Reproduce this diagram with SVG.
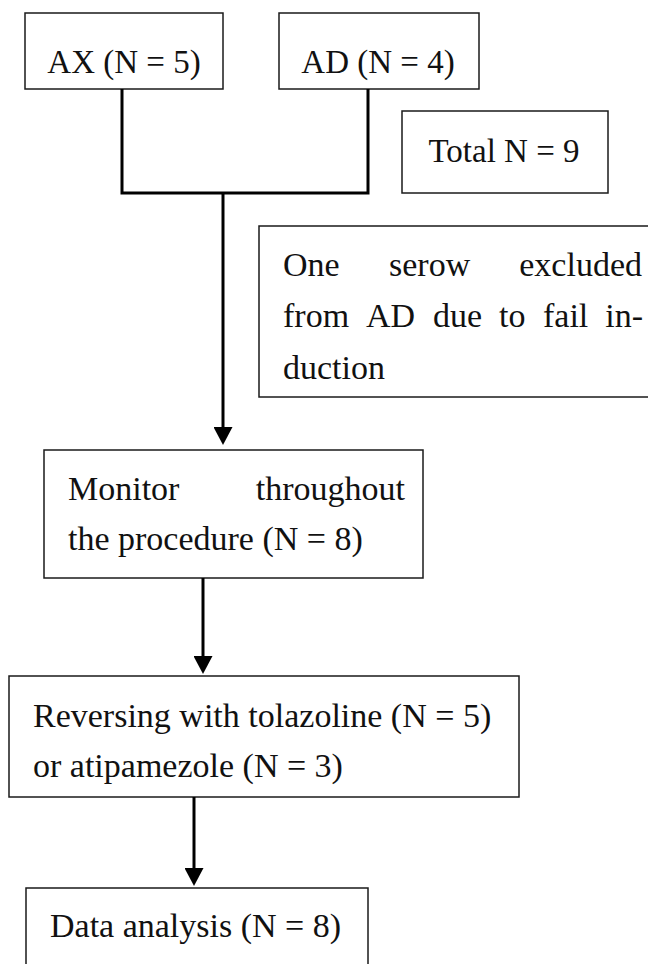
<svg xmlns="http://www.w3.org/2000/svg" width="648" height="964" viewBox="0 0 648 964">
<style>
.box{fill:#fff;stroke:#1a1a1a;stroke-width:1.5}
.t{font-family:"Liberation Serif","Times New Roman",serif;font-size:34px;fill:#111}
.th{font-family:"Liberation Serif","Times New Roman",serif;font-size:33px;fill:#111}
.c{fill:none;stroke:#000;stroke-width:3}
</style>
<defs>
<marker id="ah" viewBox="0 0 18 19" refX="1" refY="9.5" markerWidth="18" markerHeight="19" markerUnits="userSpaceOnUse" orient="auto">
<path d="M0,0 L18,9.5 L0,19 z" fill="#000"/>
</marker>
</defs>
<rect width="648" height="964" fill="#fff"/>
<g id="ax">
<rect class="box" x="25" y="13" width="198" height="76"/>
<text class="th" x="124" y="73" text-anchor="middle">AX (N = 5)</text>
</g>
<g id="ad">
<rect class="box" x="279" y="13" width="200" height="76"/>
<text class="th" x="378" y="73" text-anchor="middle">AD (N = 4)</text>
</g>
<g id="total">
<rect class="box" x="402" y="111" width="206" height="82"/>
<text class="th" x="504" y="162" text-anchor="middle">Total N = 9</text>
</g>
<g id="excluded">
<rect class="box" x="259" y="226" width="430" height="171"/>
<text class="t" y="276"><tspan x="283">One</tspan><tspan x="389">serow</tspan><tspan x="642" text-anchor="end">excluded</tspan></text>
<text class="t" y="327"><tspan x="283">from</tspan><tspan x="366">AD</tspan><tspan x="433">due</tspan><tspan x="499">to</tspan><tspan x="543">fail</tspan><tspan x="643" text-anchor="end">in-</tspan></text>
<text class="t" x="283" y="379">duction</text>
</g>
<g id="monitor">
<rect class="box" x="44" y="450" width="379" height="128"/>
<text class="t" y="500"><tspan x="68">Monitor</tspan><tspan x="405" text-anchor="end">throughout</tspan></text>
<text class="t" x="68" y="550">the procedure (N = 8)</text>
</g>
<g id="reversing">
<rect class="box" x="9" y="676" width="510" height="121"/>
<text class="t" x="33" y="727">Reversing with tolazoline (N = 5)</text>
<text class="t" x="33" y="777">or atipamezole (N = 3)</text>
</g>
<g id="analysis">
<rect class="box" x="26" y="888" width="342" height="100"/>
<text class="t" x="50" y="937">Data analysis (N = 8)</text>
</g>
<g id="connectors">
<path class="c" d="M122,89 V193 H368 V89"/>
<path class="c" d="M223,193 V428" marker-end="url(#ah)"/>
<path class="c" d="M203,578 V657" marker-end="url(#ah)"/>
<path class="c" d="M194,797 V869" marker-end="url(#ah)"/>
</g>
</svg>
